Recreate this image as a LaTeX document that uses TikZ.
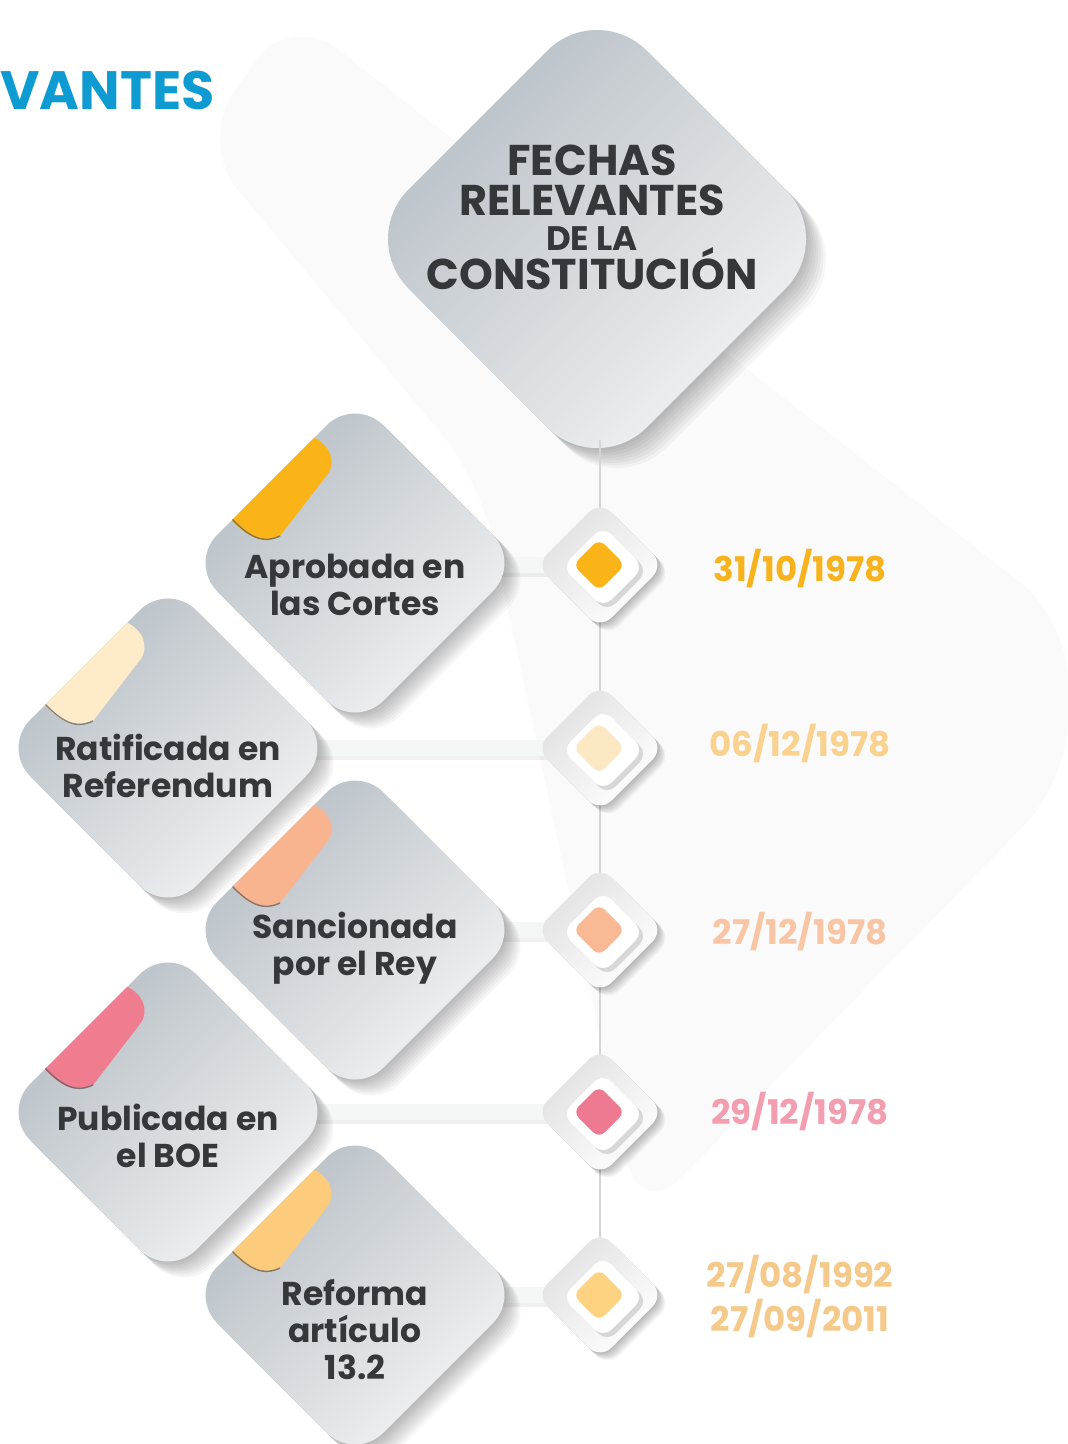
\documentclass[tikz,border=0pt]{standalone}
\usepackage{fontspec}
\setmainfont{Poppins}
\usetikzlibrary{calc}
\definecolor{cardA}{HTML}{B5BDC3}
\definecolor{cardB}{HTML}{F4F5F6}
\definecolor{txtgray}{HTML}{35383A}
\definecolor{titleblue}{HTML}{0E9BD2}
\definecolor{tabA}{HTML}{FBB418}
\definecolor{tabB}{HTML}{FDEBC9}
\definecolor{tabC}{HTML}{F8B48E}
\definecolor{tabD}{HTML}{F07C90}
\definecolor{tabE}{HTML}{FCCB7C}
\definecolor{dotA}{HTML}{FBB418}
\definecolor{dotB}{HTML}{FDE8C4}
\definecolor{dotC}{HTML}{F9B995}
\definecolor{dotD}{HTML}{EE7A92}
\definecolor{dotE}{HTML}{FDD280}
\definecolor{dateA}{HTML}{F8B31C}
\definecolor{dateB}{HTML}{FAD28E}
\definecolor{dateC}{HTML}{F8C6A5}
\definecolor{dateD}{HTML}{F29DB0}
\definecolor{dateE}{HTML}{F5C98A}
\definecolor{bandcol}{HTML}{F5F6F6}
\definecolor{linecol}{HTML}{D3D6D8}
\definecolor{faint}{HTML}{FAFAFA}

\tikzset{
  cardtxt/.style={font=\bfseries\fontsize{16.5}{18.5}\selectfont, text=txtgray, align=center},
  datetxt/.style={font=\bfseries\fontsize{17}{22}\selectfont, anchor=base, align=center},
  bigtxt/.style={font=\bfseries\fontsize{21.5}{24}\selectfont, text=txtgray, anchor=base, inner sep=0pt},
  band/.style={line width=8pt, bandcol},
  bandshadow/.style={line width=8pt, black, opacity=0.06},
  tline/.style={line width=1.4pt, linecol},
}

\newcommand\dpath[3]{({#1-#3},{#2}) -- ({#1},{#2-#3}) -- ({#1+#3},{#2}) -- ({#1},{#2+#3}) -- cycle}

\newcommand\softshadow[5]{% cx cy half radius step
  \foreach \k in {1,...,8}{\fill[black, opacity=0.035, rounded corners=#4] \dpath{#1+\k*#5}{#2+\k*#5}{#3};}
}

\newcommand\card[6]{% name cx cy tabcolor text textoffset
  \softshadow{#2}{#3}{166}{20pt}{2}
  \shade[rounded corners=20pt, top color=cardA, bottom color=cardB, shading angle=45] \dpath{#2}{#3}{166};
  \begin{scope}
    \clip[rounded corners=20pt] \dpath{#2}{#3}{166};
    \fill[#4] ({#2-160},{#3-50}) -- ({#2-125},{#3-45}) .. controls ({#2-105},{#3-22}) and ({#2-90},{#3-20}) .. ({#2-75},{#3-27})
      -- ({#2-28},{#3-88}) .. controls ({#2-18},{#3-101}) and ({#2-25},{#3-118}) .. ({#2-42},{#3-126})
      -- ({#2-60},{#3-160}) -- cycle;
    \draw[black!65, opacity=0.7, line width=0.7pt] ({#2-130},{#3-52}) .. controls ({#2-105},{#3-22}) and ({#2-90},{#3-20}) .. ({#2-75},{#3-27});
  \end{scope}
  \node[cardtxt] (#1) at (#2,{#3+#6}) {#5};
  \coordinate (#1r) at ({#2+150},#3);
}

\newcommand\marker[4]{% name cx cy color
  \softshadow{#2}{#3}{64}{8pt}{1}
  \shade[rounded corners=8pt, top color=black!12, bottom color=white, shading angle=45] \dpath{#2}{#3}{64};
  \fill[black, opacity=0.13, rounded corners=6pt] \dpath{#2+7}{#3+6}{41};
  \fill[white, rounded corners=6pt] \dpath{#2+3}{#3+2}{41};
  \fill[#4, rounded corners=4pt] \dpath{#2-1}{#3}{26};
  \coordinate (#1) at (#2,#3);
}

\begin{document}
\begin{tikzpicture}[x=0.5pt, y=-0.5pt]
\useasboundingbox (0,0) rectangle (1068,1444);
\fill[white] (0,0) rectangle (1068,1444);

% faint background band
\fill[faint, rounded corners=30pt] (199,143) -- (290,12) -- (1068,620) -- (1068,780) -- (640,1220) -- (480,480) -- cycle;

% title
\node[font=\bfseries\fontsize{27}{30}\selectfont, text=titleblue, anchor=base west, inner sep=0pt] (title) at (0,110) {VANTES};

% big diamond
\softshadow{597}{239}{238}{35pt}{2.5}
\shade[rounded corners=35pt, top color=cardA, bottom color=cardB, shading angle=45] \dpath{597}{239}{238};
\node[bigtxt] (t1) at (592,176) {FECHAS};
\node[bigtxt] (t2) at (592,216) {RELEVANTES};
\node[bigtxt, font=\bfseries\fontsize{17}{20}\selectfont] (t3) at (592,251) {DE LA};
\node[bigtxt] (t4) at (592,290) {CONSTITUCIÓN};
\coordinate (bigbot) at (600,440);

% markers positions
\coordinate (m1) at (600,565);
\coordinate (m5) at (600,1295);

% timeline
\draw[tline] (bigbot) -- (m5);

% card anchor coordinates for bands
\coordinate (c1r) at (500,565);
\coordinate (c2r) at (300,748);
\coordinate (c3r) at (500,930);
\coordinate (c4r) at (300,1112);
\coordinate (c5r) at (500,1295);

\foreach \c/\y in {c1r/565, c2r/748, c3r/930, c4r/1112, c5r/1295}{
  \draw[bandshadow] ([yshift=-2pt]\c) -- ([yshift=-2pt]570,\y);
  \draw[band] (\c) -- (570,\y);
}

% markers
\marker{mk1}{600}{565}{dotA}
\marker{mk2}{600}{748}{dotB}
\marker{mk3}{600}{930}{dotC}
\marker{mk4}{600}{1112}{dotD}
\marker{mk5}{600}{1295}{dotE}

% cards
\card{k1}{355}{563}{tabA}{Aprobada en\\las Cortes}{22}
\card{k2}{168}{748}{tabB}{Ratificada en\\Referendum}{18}
\card{k3}{355}{930}{tabC}{Sancionada\\por el Rey}{18}
\card{k4}{168}{1112}{tabD}{Publicada en\\el BOE}{24}
\card{k5}{355}{1295}{tabE}{Reforma\\artículo\\13.2}{35}

% dates
\node[datetxt, text=dateA] (d1) at (800,581) {31/10/1978};
\node[datetxt, text=dateB] (d2) at (800,756) {06/12/1978};
\node[datetxt, text=dateC] (d3) at (800,944) {27/12/1978};
\node[datetxt, text=dateD] (d4) at (800,1124) {29/12/1978};
\node[datetxt, text=dateE] (d5) at (800,1331) {27/08/1992\\27/09/2011};
\end{tikzpicture}
\end{document}
